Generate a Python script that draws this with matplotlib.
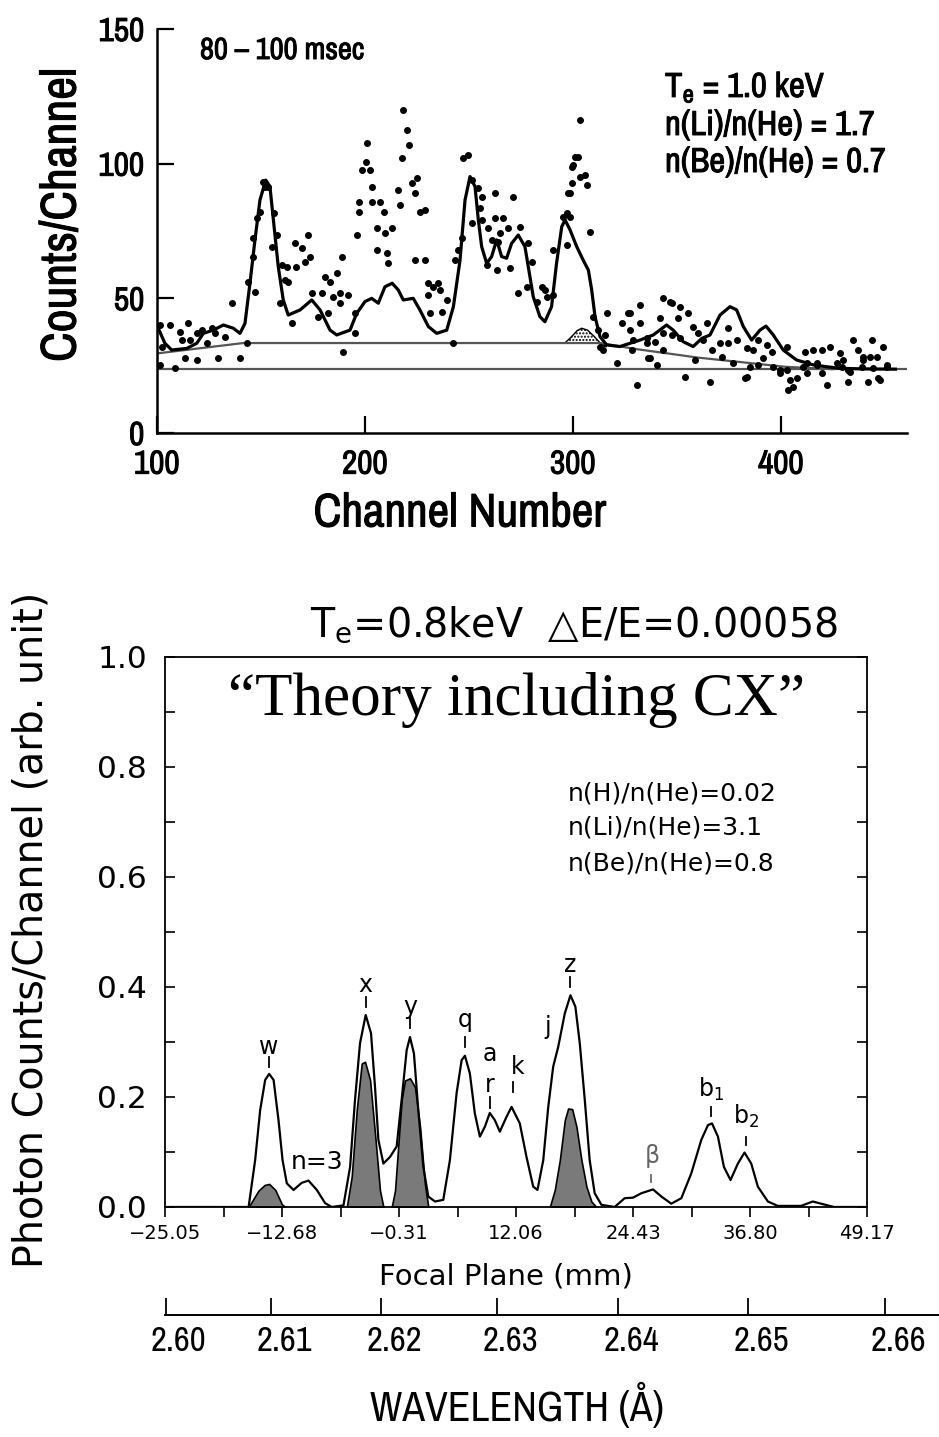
import numpy as np
import matplotlib
matplotlib.use("Agg")
import matplotlib.pyplot as plt
import matplotlib.transforms as mtransforms
import matplotlib.patheffects as pe
from matplotlib.ticker import FixedLocator, MultipleLocator

NARROW = ['Archivo Narrow', 'Liberation Sans Narrow', 'DejaVu Sans']
SANS = ['DejaVu Sans']
plt.rcParams['font.family'] = NARROW
plt.rcParams['mathtext.default'] = 'regular'

W, H = 939, 1437

# ---------------- top panel: measured counts and fit ----------------
fit_ch = [100.6, 103.8, 107.1, 114.3, 119.1, 122.3, 127.1, 131.9, 136.7, 139.9,
          142.3, 144.7, 147.1, 149.5, 152.3, 154.3, 156.3, 158.3, 160.7, 163.1,
          168.8, 174.4, 178.4, 183.2, 186.4, 192.8, 196.0, 200.0, 203.2, 206.4,
          209.6, 213.1, 216.0, 218.4, 223.2, 226.4, 230.5, 234.5, 239.3, 242.5,
          245.7, 248.1, 250.5, 252.9, 254.5, 256.1, 258.5, 260.9, 263.3, 265.7,
          268.1, 270.5, 273.7, 276.9, 278.5, 280.9, 284.1, 286.5, 289.7, 292.1,
          294.6, 296.2, 298.6, 301.8, 304.9, 307.4, 309.0, 310.6, 313.0, 316.2,
          322.6, 332.2, 338.6, 345.0, 348.2, 353.0, 357.8, 361.9, 365.9, 370.7,
          375.5, 378.7, 381.9, 385.9, 389.9, 392.8, 396.3, 401.1, 407.5, 415.5,
          422.0, 428.4, 440.0, 455.0]
fit_counts = [38.9, 33.3, 30.8, 31.4, 33.3, 37.0, 38.2, 40.1, 38.9, 37.0,
              40.7, 55.6, 71.7, 86.5, 93.9, 91.5, 76.6, 61.8, 49.4, 43.8,
              45.7, 49.4, 45.7, 38.2, 36.4, 38.2, 44.4, 48.8, 50.0, 48.2,
              54.3, 55.6, 53.1, 49.4, 50.0, 45.7, 39.5, 37.0, 38.2, 46.9,
              64.2, 86.5, 95.2, 91.5, 79.1, 69.2, 63.0, 65.5, 71.7, 65.5,
              64.9, 70.4, 73.5, 69.2, 61.8, 50.6, 43.2, 41.3, 46.9, 63.0,
              76.6, 79.1, 75.4, 69.2, 64.2, 60.5, 53.1, 43.2, 35.8, 32.7,
              32.1, 34.5, 36.4, 40.1, 38.2, 33.9, 32.1, 35.1, 36.4, 43.8,
              46.9, 45.7, 39.5, 34.5, 38.2, 39.7, 36.4, 30.8, 27.1, 25.3,
              24.6, 24.0, 23.8, 23.7]

obs_ch = [101.4, 101.4, 102.2, 106.3, 108.7, 111.1, 111.9, 113.5, 115.1, 115.9,
          119.1, 119.1, 121.5, 123.9, 126.3, 127.9, 129.5, 132.7, 135.9, 139.9,
          143.1, 143.9, 146.0, 146.3, 147.1, 147.9, 149.5, 151.1, 151.9, 153.5,
          155.1, 156.3, 157.5, 159.1, 159.9, 161.5, 162.3, 163.1, 164.7, 166.3,
          166.8, 169.6, 171.2, 172.8, 173.6, 174.4, 177.6, 179.2, 180.8, 182.4,
          183.2, 184.8, 186.4, 188.0, 188.0, 188.8, 189.6, 191.7, 195.2, 195.2,
          196.0, 197.1, 197.1, 198.4, 200.3, 200.8, 202.4, 203.2, 203.2, 205.6,
          205.6, 207.2, 209.3, 209.6, 210.4, 211.2, 213.1, 216.0, 216.8, 217.6,
          218.4, 220.0, 221.3, 222.4, 224.0, 224.0, 224.8, 226.4, 228.8, 228.8,
          230.4, 230.4, 231.3, 232.9, 235.3, 236.1, 236.9, 239.3, 242.5, 243.3,
          244.9, 246.5, 247.3, 249.7, 251.3, 251.3, 254.5, 255.3, 256.1, 256.1,
          258.5, 259.3, 260.9, 262.5, 262.5, 263.3, 264.1, 264.9, 266.5, 268.9,
          269.7, 271.3, 273.7, 274.5, 277.7, 278.5, 280.1, 282.5, 284.9, 286.5,
          287.3, 290.5, 290.5, 295.4, 296.9, 297.0, 297.8, 298.6, 298.6, 299.4,
          299.4, 300.2, 301.0, 302.6, 303.4, 303.4, 305.8, 306.6, 308.2, 309.8,
          312.2, 313.0, 314.6, 315.4, 316.2, 321.0, 323.4, 326.6, 327.4, 327.4,
          328.2, 329.0, 330.6, 332.2, 332.2, 335.4, 335.4, 336.2, 337.0, 339.4,
          340.2, 341.8, 343.4, 343.4, 343.4, 346.6, 347.4, 347.4, 350.6, 351.4,
          351.4, 353.8, 355.4, 357.8, 358.7, 360.2, 362.7, 364.3, 365.9, 366.7,
          370.7, 371.5, 374.7, 374.7, 377.1, 378.7, 382.7, 383.5, 383.5, 385.1,
          386.7, 389.1, 389.1, 391.5, 393.1, 395.5, 396.3, 399.5, 399.5, 402.7,
          402.7, 403.5, 404.3, 405.9, 407.5, 410.7, 411.5, 412.3, 412.3, 415.5,
          417.1, 417.1, 419.6, 419.6, 422.0, 423.6, 426.8, 428.4, 429.2, 430.0,
          432.4, 432.4, 433.2, 434.8, 437.2, 438.8, 439.6, 439.6, 442.0, 442.8,
          443.6, 444.4, 446.0, 446.8, 447.6, 449.2, 450.8, 450.8]
obs_counts = [40.1, 25.2, 32.1, 40.1, 24.0, 37.6, 34.5, 27.7, 40.7, 34.5,
              37.0, 27.1, 38.2, 33.3, 38.9, 37.0, 27.7, 35.8, 48.2, 27.7,
              33.3, 56.2, 72.3, 65.5, 52.5, 79.7, 82.2, 93.3, 91.5, 91.5,
              69.2, 81.6, 73.5, 48.2, 62.4, 56.8, 61.8, 56.2, 40.7, 70.4,
              61.5, 68.6, 63.6, 73.5, 65.5, 51.9, 43.2, 51.9, 58.0, 44.4,
              56.2, 50.6, 59.3, 51.9, 48.2, 65.5, 30.2, 51.3, 44.4, 37.0,
              73.5, 82.2, 85.9, 97.7, 100.8, 107.6, 97.7, 91.5, 85.9, 76.0,
              68.0, 85.9, 82.2, 74.2, 66.7, 63.0, 76.0, 90.2, 84.7, 102.0,
              120.0, 112.5, 106.9, 92.7, 89.0, 64.3, 94.6, 82.2, 82.8, 64.3,
              55.6, 51.3, 44.4, 54.3, 55.6, 53.1, 45.1, 49.4, 33.3, 64.2,
              68.0, 72.3, 102.0, 103.2, 94.0, 77.9, 90.9, 83.4, 87.8, 79.1,
              62.4, 76.0, 71.7, 89.0, 79.7, 60.5, 71.1, 74.2, 79.7, 76.0,
              61.1, 87.8, 51.9, 76.6, 54.3, 70.4, 63.6, 48.8, 54.3, 53.1,
              50.6, 51.3, 68.0, 80.3, 69.8, 81.6, 89.0, 80.3, 89.0, 92.7,
              98.9, 99.5, 102.6, 102.6, 95.2, 116.2, 95.8, 92.1, 74.8, 43.2,
              38.3, 32.1, 30.8, 36.4, 44.4, 25.9, 40.7, 44.4, 38.3, 44.4,
              30.8, 34.5, 17.8, 47.5, 40.7, 33.3, 35.1, 27.7, 27.7, 33.9,
              25.3, 42.6, 50.0, 37.0, 30.8, 48.8, 48.1, 36.4, 42.6, 46.9,
              35.1, 20.9, 44.4, 39.5, 27.1, 37.0, 34.5, 40.7, 19.1, 30.8,
              33.3, 28.3, 33.3, 38.9, 25.9, 34.5, 20.3, 31.5, 20.9, 24.6,
              30.8, 34.5, 25.3, 27.7, 32.7, 30.2, 24.6, 22.1, 23.4, 32.1,
              23.4, 16.0, 19.7, 17.2, 20.3, 24.6, 30.2, 22.1, 25.9, 30.8,
              25.3, 25.9, 30.8, 22.1, 17.8, 32.1, 25.9, 29.6, 24.6, 27.1,
              23.4, 19.1, 22.8, 34.5, 30.8, 24.6, 28.3, 27.1, 19.1, 28.3,
              34.5, 24.0, 28.3, 20.3, 19.7, 32.1, 24.6, 25.2]

bg_hi_ch = [100.6, 141.5, 313.0, 330.0, 360.0, 401.9, 425.0]
bg_hi = [29.6, 33.4, 33.4, 31.2, 28.0, 24.6, 23.7]
bg_lo_ch = [100.0, 460.0]
bg_lo = [23.6, 23.6]
hump_ch = [296.2, 299.0, 302.0, 304.2, 307.0, 310.0, 313.0, 316.0]
hump_top = [33.5, 35.5, 38.0, 38.9, 38.2, 36.0, 33.5, 32.0]
hump_base = [33.4, 33.4, 33.4, 33.4, 33.4, 33.4, 33.4, 32.0]

# ---------------- bottom panel: theoretical spectrum ----------------
spec_mm = [-25.05, -16.21, -15.52, -14.99, -14.46, -14.04, -13.57, -13.05, -12.62, -12.17,
           -11.46, -10.59, -9.88, -9.00, -8.12, -7.42, -6.18, -5.48, -4.96, -4.43,
           -3.83, -3.27, -2.85, -2.49, -1.96, -1.26, -0.56, -0.03, 0.50, 0.85,
           1.27, 1.73, 2.26, 2.79, 3.49, 4.37, 5.07, 5.78, 6.31, 6.66,
           7.18, 7.71, 8.24, 8.77, 9.29, 9.82, 10.35, 11.06, 11.59, 12.46,
           13.17, 13.88, 14.33, 14.94, 15.47, 15.99, 16.52, 17.22, 17.82, 18.34,
           18.80, 19.33, 19.85, 20.38, 21.09, 22.49, 23.55, 24.44, 25.31, 26.55,
           27.43, 28.48, 29.54, 30.59, 31.65, 32.36, 32.78, 33.41, 34.04, 34.74,
           35.52, 36.22, 36.93, 37.63, 38.69, 39.74, 42.20, 43.44, 44.32, 45.69,
           49.17]
spec_val = [0.0, 0.0, 0.085, 0.176, 0.231, 0.242, 0.231, 0.158, 0.085, 0.043,
            0.031, 0.044, 0.048, 0.031, 0.007, 0.0, 0.003, 0.073, 0.195, 0.298,
            0.349, 0.316, 0.219, 0.122, 0.079, 0.091, 0.110, 0.195, 0.285, 0.309,
            0.279, 0.176, 0.073, 0.019, 0.010, 0.013, 0.085, 0.207, 0.267, 0.275,
            0.243, 0.170, 0.128, 0.146, 0.171, 0.158, 0.137, 0.164, 0.182, 0.152,
            0.091, 0.037, 0.031, 0.085, 0.182, 0.255, 0.291, 0.352, 0.385, 0.364,
            0.298, 0.195, 0.085, 0.025, 0.004, 0.0, 0.016, 0.017, 0.025, 0.032,
            0.019, 0.006, 0.016, 0.061, 0.122, 0.149, 0.152, 0.128, 0.073, 0.049,
            0.079, 0.099, 0.079, 0.037, 0.010, 0.002, 0.002, 0.010, 0.006, 0.0,
            0.0]

# charge-exchange contributions (shaded)
w_mm = [-16.21, -15.16, -14.52, -14.04, -13.39, -12.69, -12.34]
w_val = [0.0, 0.030, 0.040, 0.042, 0.031, 0.005, 0.0]
x_mm = [-5.83, -5.31, -4.78, -4.25, -3.90, -3.37, -2.85, -2.32, -1.96]
x_val = [0.0, 0.055, 0.176, 0.261, 0.264, 0.231, 0.134, 0.030, 0.0]
y_mm = [-1.08, -0.73, -0.37, -0.03, 0.32, 0.85, 1.38, 1.91, 2.44, 2.79]
y_val = [0.0, 0.030, 0.116, 0.195, 0.230, 0.234, 0.218, 0.146, 0.040, 0.0]
z_mm = [15.63, 16.16, 16.69, 17.22, 17.57, 18.00, 18.45, 18.98, 19.51, 20.03, 20.55]
z_val = [0.0, 0.031, 0.085, 0.158, 0.179, 0.178, 0.146, 0.085, 0.037, 0.010, 0.0]

line_names = ['w', 'x', 'y', 'q', 'r', 'k', 'z', r'$\beta$', '$b_1$', '$b_2$']
line_mm = [-14.04, -3.83, 0.85, 6.66, 9.29, 11.76, 17.82, 26.37, 32.70, 36.40]
label_mm = [-14.04, -3.83, 0.85, 6.66, 9.29, 12.29, 17.82, 26.37, 32.70, 36.40]
label_val = [0.291, 0.404, 0.364, 0.340, 0.222, 0.255, 0.440, 0.092, 0.213, 0.164]
mark_lo = [0.255, 0.363, 0.325, 0.291, 0.180, 0.210, 0.400, 0.046, 0.165, 0.113]
mark_hi = [0.273, 0.381, 0.343, 0.309, 0.200, 0.228, 0.418, 0.058, 0.182, 0.128]

focal_major = [-25.05, -12.68, -0.31, 12.06, 24.43, 36.80, 49.17]
focal_minor = [-18.865, -6.495, 5.875, 18.245, 30.615, 42.985]
wl_labels = ['2.60', '2.61', '2.62', '2.63', '2.64', '2.65', '2.66']
wl_pos_mm = [-24.99, -13.84, -2.21, 10.05, 22.85, 36.59, 51.08]


def fx(px):
    return px / W


def fy(py):
    return 1 - py / H


# the narrow face has no bold file, so thicken it with a thin outline
heavy = [pe.withStroke(linewidth=0.7, foreground='black')]

fig = plt.figure(figsize=(W / 100, H / 100), dpi=100)

# ================= top panel =================
ax1 = fig.add_axes([fx(157), fy(433), (907 - 157) / W, (433 - 29) / H])
ax1.plot(bg_lo_ch, bg_lo, color='#555555', lw=1.6)
ax1.plot(bg_hi_ch, bg_hi, color='#555555', lw=1.6)
ax1.fill_between(hump_ch, hump_top, hump_base, facecolor='white', edgecolor='black',
                 hatch='.....', lw=1.0)
ax1.plot(fit_ch, fit_counts, color='black', lw=2.3)
ax1.plot(obs_ch, obs_counts, 'o', color='black', ms=4)
ax1.set_xlim(100, 460.6)
ax1.set_ylim(0, 150)
for s in ['top', 'right']:
    ax1.spines[s].set_visible(False)
for s in ['left', 'bottom']:
    ax1.spines[s].set_linewidth(1.8)
ax1.set_xticks([100, 200, 300, 400])
ax1.set_yticks([0, 50, 100, 150])
ax1.tick_params(direction='in', length=12, width=1.6, labelsize=24, pad=9)
ax1.tick_params(axis='x', pad=12)
for lbl in ax1.get_xticklabels() + ax1.get_yticklabels():
    lbl.set_path_effects(heavy)

fig.text(fx(62), fy(215), 'Counts/Channel', rotation=90, ha='center', va='center',
         fontsize=36, path_effects=heavy)
fig.text(fx(460), fy(513), 'Channel Number', ha='center', va='center',
         fontsize=34, path_effects=heavy)
fig.text(fx(200), fy(50), '80 – 100 msec', ha='left', va='center',
         fontsize=22, path_effects=heavy)
fig.text(fx(665), fy(87), '$T_e$ = 1.0 keV', ha='left', va='center',
         fontsize=25, path_effects=heavy)
fig.text(fx(665), fy(125), 'n(Li)/n(He) = 1.7', ha='left', va='center',
         fontsize=25, path_effects=heavy)
fig.text(fx(665), fy(162), 'n(Be)/n(He) = 0.7', ha='left', va='center',
         fontsize=25, path_effects=heavy)

# ================= bottom panel =================
ax2 = fig.add_axes([fx(165), fy(1207), (867 - 165) / W, 550 / H])
for mm, val in [(w_mm, w_val), (x_mm, x_val), (y_mm, y_val), (z_mm, z_val)]:
    ax2.fill_between(mm, val, 0, facecolor='#7a7a7a', edgecolor='black', lw=1.2)
ax2.plot(spec_mm, spec_val, color='black', lw=1.6)
ax2.set_xlim(focal_major[0], focal_major[-1])
ax2.set_ylim(0, 1.0)
for s in ax2.spines.values():
    s.set_linewidth(1.3)
ax2.xaxis.set_major_locator(FixedLocator(focal_major))
ax2.xaxis.set_minor_locator(FixedLocator(focal_minor))
ax2.set_xticklabels([f'{v:.2f}'.replace('-', '−') for v in focal_major],
                    fontsize=14, family=SANS)
ax2.set_yticks(np.arange(0, 1.01, 0.2))
ax2.yaxis.set_minor_locator(MultipleLocator(0.1))
ax2.set_yticklabels([f'{v:.1f}' for v in np.arange(0, 1.01, 0.2)], fontsize=22.5, family=SANS)
ax2.tick_params(axis='x', which='both', direction='out', length=7, width=1.2, pad=5)
ax2.tick_params(axis='y', which='both', direction='in', length=7, width=1.2,
                left=True, right=True, pad=13)

for name, lm, tm, tv, lo, hi in zip(line_names, line_mm, label_mm, label_val, mark_lo, mark_hi):
    col = '#666666' if 'beta' in name else 'black'
    ax2.text(tm, tv, name, ha='center', va='center', fontsize=17, family=SANS, color=col)
    ax2.plot([lm, lm], [lo, hi], color=col, lw=1.3)
ax2.text(9.29, 0.279, 'a', ha='center', va='center', fontsize=17, family=SANS)
ax2.text(15.46, 0.328, 'j', ha='center', va='center', fontsize=17, family=SANS)
ax2.text(-9.0, 0.082, 'n=3', ha='center', va='center', fontsize=18, family=SANS)

# wavelength scale
ax3 = fig.add_axes([fx(165), fy(1315), (W - 165) / W, 0.0001])
span = (focal_major[-1] - focal_major[0]) * ((W - 165) / (867 - 165))
ax3.set_xlim(focal_major[0], focal_major[0] + span)
for s in ['left', 'right', 'top']:
    ax3.spines[s].set_visible(False)
ax3.spines['bottom'].set_linewidth(1.4)
ax3.set_yticks([])
ax3.set_xticks(wl_pos_mm)
ax3.set_xticklabels(wl_labels, fontsize=25)
ax3.tick_params(axis='x', direction='in', length=12, width=1.3, pad=7)
shift = mtransforms.ScaledTranslation(0.13, 0, fig.dpi_scale_trans)
for lbl in ax3.get_xticklabels():
    lbl.set_transform(lbl.get_transform() + shift)

fig.text(fx(574), fy(625), r'$T_e$=0.8keV  △E/E=0.00058', ha='center', va='center',
         fontsize=28.5, family=SANS)
fig.text(fx(516), fy(700), '“Theory including CX”', ha='center', va='center',
         fontsize=44, family=['Liberation Serif', 'DejaVu Serif'])
fig.text(fx(568), fy(793), 'n(H)/n(He)=0.02', ha='left', va='center', fontsize=18, family=SANS)
fig.text(fx(568), fy(828), 'n(Li)/n(He)=3.1', ha='left', va='center', fontsize=18, family=SANS)
fig.text(fx(568), fy(863), 'n(Be)/n(He)=0.8', ha='left', va='center', fontsize=18, family=SANS)
fig.text(fx(32), fy(930), 'Photon Counts/Channel (arb. unit)', rotation=90, ha='center',
         va='center', fontsize=28.5, family=SANS)
fig.text(fx(506), fy(1277), 'Focal Plane (mm)', ha='center', va='center', fontsize=21,
         family=SANS)
fig.text(fx(517), fy(1405), 'WAVELENGTH (Å)', ha='center', va='center', fontsize=30)

fig.savefig('out.png', dpi=100)
